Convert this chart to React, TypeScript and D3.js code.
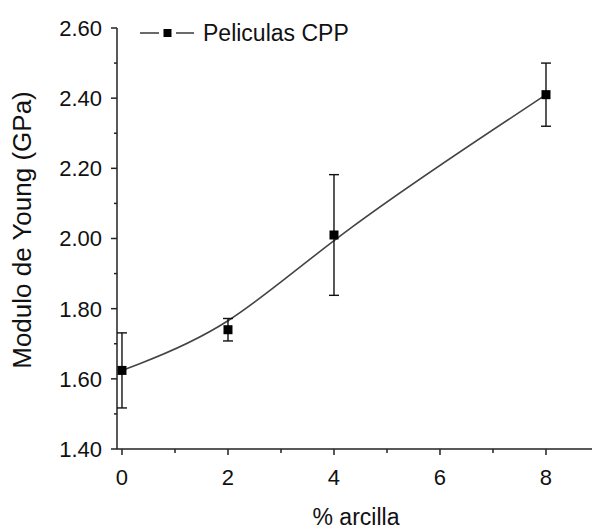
import React from "react";
import * as d3 from "d3";

const xVals = [0, 2, 4, 8];
const yVals = [1.624, 1.74, 2.01, 2.41];
const errVals = [0.107, 0.032, 0.172, 0.09];
const xMajorTicks = [0, 2, 4, 6, 8];
const xMinorTicks = [1, 3, 5, 7];
const yMajorTicks = [1.4, 1.6, 1.8, 2.0, 2.2, 2.4, 2.6];
const yMinorTicks = [1.5, 1.7, 1.9, 2.1, 2.3, 2.5];
const seriesName = "Peliculas CPP";
const xTitle = "% arcilla";
const yTitle = "Modulo de Young (GPa)";

const W = 592;
const H = 529;
const FONT = "'Liberation Sans', Arial, sans-serif";

export default function App() {
  const x = d3.scaleLinear().domain([-0.094, 8.868]).range([117, 592]);
  const y = d3.scaleLinear().domain([1.4, 2.6]).range([449, 28]);
  const pts: [number, number][] = xVals.map((v, i) => [v, yVals[i]]);
  const line = d3
    .line<[number, number]>()
    .x((d) => x(d[0]))
    .y((d) => y(d[1]))
    .curve(d3.curveBasis);
  const x0 = x.range()[0];
  const yBase = y.range()[0];
  const ms = 9;
  return (
    <svg
      width={W}
      height={H}
      style={{ position: "absolute", left: 0, top: 0, background: "#fff" }}
      fontFamily={FONT}
    >
      {/* axes */}
      <line x1={x0} x2={x0} y1={y(2.6)} y2={yBase} stroke="#222" strokeWidth={1.5} />
      <line x1={x0} x2={W} y1={yBase} y2={yBase} stroke="#222" strokeWidth={1.5} />
      {yMajorTicks.map((t) => (
        <g key={"ym" + t}>
          <line x1={x0 - 6} x2={x0} y1={y(t)} y2={y(t)} stroke="#222" strokeWidth={1.5} />
          <text x={x0 - 15} y={y(t)} dy="0.36em" textAnchor="end" fontSize={22} fill="#111">
            {t.toFixed(2)}
          </text>
        </g>
      ))}
      {yMinorTicks.map((t) => (
        <line key={"yn" + t} x1={x0 - 3} x2={x0} y1={y(t)} y2={y(t)} stroke="#222" strokeWidth={1.5} />
      ))}
      {xMajorTicks.map((t) => (
        <g key={"xm" + t}>
          <line x1={x(t)} x2={x(t)} y1={yBase} y2={yBase + 6} stroke="#222" strokeWidth={1.5} />
          <text x={x(t)} y={485} textAnchor="middle" fontSize={22} fill="#111">
            {t}
          </text>
        </g>
      ))}
      {xMinorTicks.map((t) => (
        <line key={"xn" + t} x1={x(t)} x2={x(t)} y1={yBase} y2={yBase + 4} stroke="#222" strokeWidth={1.5} />
      ))}
      {/* titles */}
      <text x={356} y={525} textAnchor="middle" fontSize={23} fill="#111">
        {xTitle}
      </text>
      <text
        transform={`translate(31,230) rotate(-90)`}
        textAnchor="middle"
        fontSize={26}
        fill="#111"
      >
        {yTitle}
      </text>
      {/* curve */}
      <path d={line(pts) || ""} fill="none" stroke="#444" strokeWidth={1.6} />
      {/* error bars */}
      {pts.map((p, i) => {
        const cx = x(p[0]);
        const top = y(p[1] + errVals[i]);
        const bot = y(p[1] - errVals[i]);
        return (
          <g key={"e" + i} stroke="#111" strokeWidth={1.4}>
            <line x1={cx} x2={cx} y1={top} y2={bot} />
            <line x1={cx - 5} x2={cx + 5} y1={top} y2={top} />
            <line x1={cx - 5} x2={cx + 5} y1={bot} y2={bot} />
          </g>
        );
      })}
      {/* markers */}
      {pts.map((p, i) => (
        <rect
          key={"m" + i}
          x={x(p[0]) - ms / 2}
          y={y(p[1]) - ms / 2}
          width={ms}
          height={ms}
          fill="#000"
        />
      ))}
      {/* legend */}
      <g>
        <line x1={140} x2={159} y1={33} y2={33} stroke="#444" strokeWidth={1.6} />
        <line x1={176} x2={194} y1={33} y2={33} stroke="#444" strokeWidth={1.6} />
        <rect x={163.5} y={29} width={8} height={8} fill="#000" />
        <text x={203} y={41} fontSize={23} fill="#111">
          {seriesName}
        </text>
      </g>
    </svg>
  );
}
